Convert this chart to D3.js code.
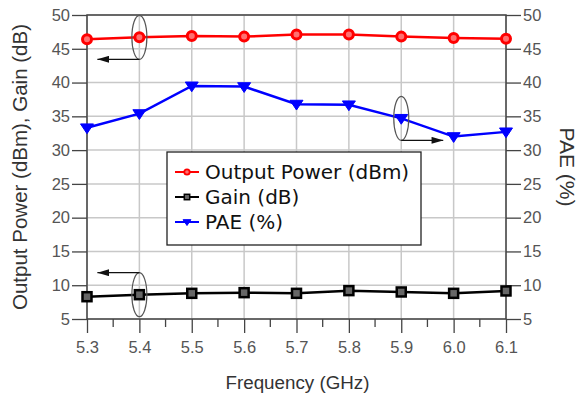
<!DOCTYPE html>
<html>
<head>
<meta charset="utf-8">
<script src="https://cdn.jsdelivr.net/npm/d3@7"></script>
<style>
  body { margin: 0; background: #fff; }
  svg { display: block; }
</style>
</head>
<body>
<div id="chart"></div>
<script>
const freqs = [5.3, 5.4, 5.5, 5.6, 5.7, 5.8, 5.9, 6.0, 6.1];
const outputPower = [46.4, 46.7, 46.9, 46.8, 47.1, 47.1, 46.8, 46.6, 46.5];
const gain = [8.3, 8.6, 8.8, 8.9, 8.8, 9.2, 9.0, 8.8, 9.15];
const pae = [33.3, 35.4, 39.5, 39.4, 36.8, 36.7, 34.7, 32.0, 32.7];
const yTicks = [5, 10, 15, 20, 25, 30, 35, 40, 45, 50];
const xTicks = [5.3, 5.4, 5.5, 5.6, 5.7, 5.8, 5.9, 6.0, 6.1];

const W = 587, H = 401;
const margin = {top: 15, right: 81, bottom: 82, left: 87};
const width = W - margin.left - margin.right
    , height = H - margin.top - margin.bottom;

const svg = d3.select("#chart").append("svg")
    .attr("width", W)
    .attr("height", H);

const g = svg.append("g")
    .attr("transform", `translate(${margin.left},${margin.top})`);

const x = d3.scaleLinear().domain([5.3, 6.1]).range([0, width]);
const y = d3.scaleLinear().domain([5, 50]).range([height, 0]);

// grid
g.append("g").selectAll("line.vg")
    .data(xTicks)
    .enter().append("line")
    .attr("x1", d => x(d)).attr("x2", d => x(d))
    .attr("y1", 0).attr("y2", height)
    .attr("stroke", "#c8c8c8").attr("stroke-width", 1.5);
g.append("g").selectAll("line.hg")
    .data(yTicks)
    .enter().append("line")
    .attr("x1", 0).attr("x2", width)
    .attr("y1", d => y(d)).attr("y2", d => y(d))
    .attr("stroke", "#c8c8c8").attr("stroke-width", 1.5);

// axes
const tickFont = "'Liberation Sans', Arial, sans-serif";
const styleAxis = (sel) => {
    sel.select(".domain").remove();
    sel.selectAll("line").attr("stroke", "#444").attr("stroke-width", 1.3);
    sel.selectAll("text").attr("fill", "#555").attr("font-size", 16.5).attr("font-family", tickFont);
};

g.append("g")
    .call(d3.axisLeft(y).tickValues(yTicks).tickSize(15).tickPadding(2).tickFormat(d3.format("d")))
    .call(styleAxis);
g.append("g")
    .attr("transform", `translate(${width},0)`)
    .call(d3.axisRight(y).tickValues(yTicks).tickSize(15).tickPadding(2).tickFormat(d3.format("d")))
    .call(styleAxis);
g.append("g")
    .attr("transform", `translate(0,${height})`)
    .call(d3.axisBottom(x).tickValues(xTicks).tickSize(14).tickPadding(8).tickFormat(d3.format(".1f")))
    .call(styleAxis);
// minor x ticks
g.append("g").selectAll("line")
    .data(xTicks.slice(1).map(d => d - 0.05))
    .enter().append("line")
    .attr("x1", d => x(d)).attr("x2", d => x(d))
    .attr("y1", height).attr("y2", height + 8)
    .attr("stroke", "#444").attr("stroke-width", 1.3);

// frame
g.append("rect")
    .attr("width", width).attr("height", height)
    .attr("fill", "none").attr("stroke", "#444").attr("stroke-width", 1.5);

// series
const series = [
    {name: "Output Power (dBm)", values: outputPower, color: "#ff0000", symbol: "circle"},
    {name: "Gain (dB)", values: gain, color: "#000000", symbol: "square"},
    {name: "PAE (%)", values: pae, color: "#0000ff", symbol: "triangle"}
];

const line = d3.line().x((d, i) => x(freqs[i])).y(d => y(d));

const drawMarker = (sel, s, cx, cy, scale) => {
    if (s.symbol === "circle") {
        sel.append("circle").attr("cx", cx).attr("cy", cy).attr("r", 4.5 * scale)
            .attr("fill", "#ff7070").attr("stroke", s.color).attr("stroke-width", 3 * scale);
    } else if (s.symbol === "square") {
        const a = 4.5 * scale;
        sel.append("rect").attr("x", cx - a).attr("y", cy - a).attr("width", 2 * a).attr("height", 2 * a)
            .attr("fill", "#666").attr("stroke", "#000").attr("stroke-width", 2.5 * scale);
    } else {
        const a = 6.5 * scale;
        sel.append("path")
            .attr("d", `M${cx - a},${cy - a * 0.6}L${cx + a},${cy - a * 0.6}L${cx},${cy + a * 0.9}Z`)
            .attr("fill", s.color).attr("stroke", s.color).attr("stroke-width", 1);
    }
};

series.forEach(s => {
    g.append("path")
        .datum(s.values)
        .attr("d", line)
        .attr("fill", "none")
        .attr("stroke", s.color)
        .attr("stroke-width", 2.5);
    const mg = g.append("g");
    s.values.forEach((v, i) => drawMarker(mg, s, x(freqs[i]), y(v), 1));
});

// annotations: ellipses + arrows
svg.append("defs").append("marker")
    .attr("id", "arr")
    .attr("viewBox", "0 0 10 6")
    .attr("refX", 10).attr("refY", 3)
    .attr("markerWidth", 12).attr("markerHeight", 7)
    .attr("markerUnits", "userSpaceOnUse")
    .attr("orient", "auto")
    .append("path").attr("d", "M0,0L10,3L0,6Z").attr("fill", "#111");

const annot = [
    {f: 5.4, v: outputPower[1], dir: -1, below: true},
    {f: 5.4, v: gain[1], dir: -1, below: false},
    {f: 5.9, v: pae[6], dir: 1, below: true}
];
annot.forEach(a => {
    const cx = x(a.f), cy = y(a.v);
    g.append("ellipse")
        .attr("cx", cx).attr("cy", cy)
        .attr("rx", 7.5).attr("ry", 22)
        .attr("fill", "none").attr("stroke", "#555").attr("stroke-width", 1.2);
    const ay = a.below ? cy + 22 : cy - 22;
    g.append("line")
        .attr("x1", cx).attr("y1", ay)
        .attr("x2", cx + a.dir * 42).attr("y2", ay)
        .attr("stroke", "#111").attr("stroke-width", 1.2)
        .attr("marker-end", "url(#arr)");
});

// legend
const lg = g.append("g").attr("transform", `translate(${167 - margin.left},${152 - margin.top})`);
lg.append("rect")
    .attr("width", 254).attr("height", 93)
    .attr("fill", "#fff").attr("stroke", "#222").attr("stroke-width", 1.3);
series.forEach((s, i) => {
    const ly = 20 + i * 25;
    lg.append("line").attr("x1", 8).attr("x2", 32).attr("y1", ly).attr("y2", ly)
        .attr("stroke", s.color).attr("stroke-width", 2);
    drawMarker(lg, s, 20, ly, 0.6);
    lg.append("text")
        .attr("x", 38).attr("y", ly)
        .attr("dy", "0.36em")
        .attr("font-family", "'DejaVu Sans', sans-serif")
        .attr("font-size", 20)
        .attr("fill", "#111")
        .text(s.name);
});

// axis titles
const titleFont = "'Liberation Sans', Arial, sans-serif";
svg.append("text")
    .attr("transform", `translate(27,167) rotate(-90)`)
    .attr("text-anchor", "middle")
    .attr("font-family", titleFont).attr("font-size", 20.5).attr("fill", "#333")
    .text("Output Power (dBm), Gain (dB)");
svg.append("text")
    .attr("transform", `translate(560,167) rotate(90)`)
    .attr("text-anchor", "middle")
    .attr("font-family", titleFont).attr("font-size", 21).attr("fill", "#333")
    .text("PAE (%)");
svg.append("text")
    .attr("x", margin.left + width / 2 + 1).attr("y", 389)
    .attr("text-anchor", "middle")
    .attr("font-family", titleFont).attr("font-size", 18.8).attr("fill", "#333")
    .text("Frequency (GHz)");
</script>
</body>
</html>
